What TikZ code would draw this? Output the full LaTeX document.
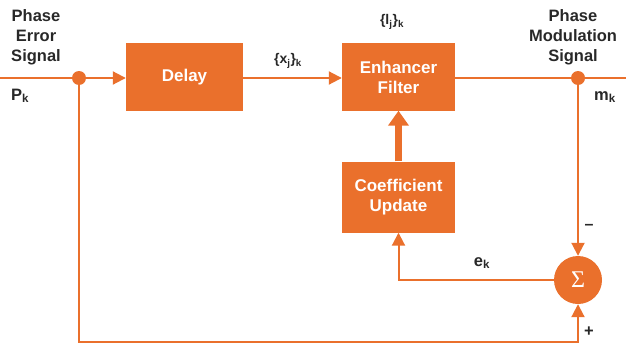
\documentclass[tikz,border=0pt]{standalone}
\usepackage{fontspec}
\setmainfont{Liberation Sans}
\newfontfamily\sigfont{Liberation Serif}
\usetikzlibrary{arrows.meta}
\definecolor{org}{RGB}{234,112,44}
\definecolor{ink}{RGB}{40,40,40}
\begin{document}
\begin{tikzpicture}[x=1pt,y=-1pt,
 box/.style={fill=org, draw=none, minimum width=117pt, minimum height=67pt, text=white, font=\bfseries\fontsize{17}{20}\selectfont, align=center, inner sep=0},
 ln/.style={draw=org, line width=2pt},
 tip/.style={-{Triangle[length=13pt,width=13pt]}},
 lbl/.style={text=ink, font=\bfseries\fontsize{16.5}{20}\selectfont, align=center, inner sep=0},
 sml/.style={text=ink, font=\bfseries\fontsize{14}{16}\selectfont, inner sep=0},
 dot/.style={circle, fill=org, minimum size=14pt, inner sep=0}]
\useasboundingbox (0,0) rectangle (626,353);
\node[box] (delay) at (184.5,77) {Delay};
\node[box, minimum width=113pt] (enh) at (398.5,77) {Enhancer\\Filter};
\node[box, minimum width=113pt, minimum height=71pt] (coef) at (398.5,197) {Coefficient\\Update};
\node[circle, fill=org, minimum size=48pt, inner sep=0, text=white, font=\sigfont\fontsize{24}{24}\selectfont] (sig) at (578,280) {Σ};
\coordinate (in) at (0,78);
\coordinate (out) at (626,78);
\node[dot] (j1) at (79,78) {};
\node[dot] (j2) at (578,78) {};
\coordinate (bl) at (79,342);
\coordinate (br) at (578,342);
\draw[ln] (in) -- (j1);
\draw[ln,tip] (j1) -- (j1 -| delay.west);
\draw[ln,tip] (j1 -| delay.east) -- (j1 -| enh.west);
\draw[ln] (j1 -| enh.east) -- (j2) -- (out);
\draw[ln,tip] (j2) -- (sig);
\draw[ln,tip] (sig.west) -| (coef.south);
\draw[org, line width=7pt, -{Triangle[length=15pt,width=20pt]}] (coef) -- (enh);
\draw[ln,tip] (j1) -- (bl) -- (br) -- (sig);
\node[lbl] (pes) at (36,37) {Phase\\Error\\Signal};
\node[lbl] (pk) at (20,96) {P\textsubscript{k}};
\node[sml] (xj) at (288,61) {\{x\textsubscript{j}\}\textsubscript{k}};
\node[sml] (lj) at (392,22) {\{l\textsubscript{j}\}\textsubscript{k}};
\node[lbl] (pms) at (573,37) {Phase\\Modulation\\Signal};
\node[lbl] (mk) at (605,97) {m\textsubscript{k}};
\node[lbl] (ek) at (482,263) {e\textsubscript{k}};
\node[lbl, font=\bfseries\fontsize{16}{16}\selectfont] (minus) at (589,227) {\textendash};
\node[lbl] (plus) at (589,332) {+};
\end{tikzpicture}
\end{document}
